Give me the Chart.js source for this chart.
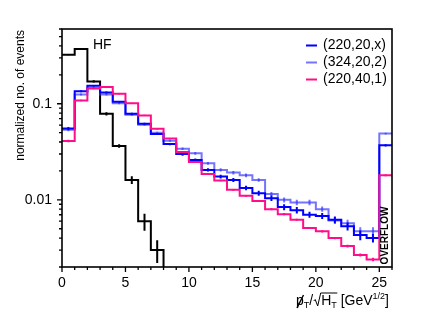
<!DOCTYPE html>
<html>
<head>
<meta charset="utf-8">
<script src="https://cdn.jsdelivr.net/npm/chart.js@4.4.0/dist/chart.umd.min.js"></script>
<style>
  html, body { margin: 0; padding: 0; background: #fff; }
  canvas { display: block; }
</style>
</head>
<body>
<canvas id="metChart" width="432" height="316"></canvas>
<script>
// bin edges of the histogram (last bin 25-26 is the overflow bin)
const binEdges = [0, 1, 2, 3, 4, 5, 6, 7, 8, 9, 10, 11, 12, 13, 14, 15, 16, 17, 18, 19, 20, 21, 22, 23, 24, 25, 26];

const seriesLabels = ['(220,20,x)', '(324,20,2)', '(220,40,1)'];

const blueValues = [0.0554, 0.135, 0.154, 0.131, 0.105, 0.0787, 0.062, 0.0484, 0.0381, 0.030, 0.026, 0.0205, 0.0175,
  0.0161, 0.0133, 0.0117, 0.0104, 0.0084, 0.0078, 0.0070, 0.0068, 0.0062, 0.0053, 0.0043, 0.0040, 0.0369];
const blueErrors = [0.002, 0.003, 0.003, 0.003, 0.002, 0.002, 0.0015, 0.0012, 0.001, 0.0012, 0.001, 0.0008, 0.0008,
  0.0008, 0.0007, 0.0007, 0.0007, 0.0006, 0.0006, 0.0005, 0.0005, 0.0005, 0.0005, 0.0005, 0.0004, 0.001];

const lavenderValues = [0.0537, 0.125, 0.147, 0.125, 0.101, 0.077, 0.0605, 0.050, 0.0413, 0.0341, 0.0305, 0.024, 0.0205,
  0.0192, 0.018, 0.0161, 0.0115, 0.0100, 0.0094, 0.0094, 0.0080, 0.0061, 0.0057, 0.0047, 0.0047, 0.0489];
const lavenderErrors = [0.002, 0.003, 0.003, 0.003, 0.002, 0.002, 0.0015, 0.0012, 0.001, 0.001, 0.001, 0.0008, 0.0008,
  0.0008, 0.0008, 0.0007, 0.0006, 0.0006, 0.0006, 0.0006, 0.0005, 0.0005, 0.0005, 0.0005, 0.0005, 0.001];

const magentaValues = [0.041, 0.108, 0.144, 0.149, 0.127, 0.101, 0.0757, 0.055, 0.0434, 0.0315, 0.0248, 0.0186, 0.0159,
  0.0127, 0.0110, 0.0097, 0.0080, 0.0071, 0.0062, 0.0051, 0.0047, 0.0040, 0.0033, 0.00267, 0.0024, 0.018];
const magentaErrors = [0.0012, 0.002, 0.002, 0.002, 0.002, 0.0015, 0.0012, 0.0009, 0.0007, 0.0005, 0.0004, 0.0003, 0.0003,
  0.0003, 0.00025, 0.0002, 0.0002, 0.0002, 0.00015, 0.00013, 0.00012, 0.0001, 0.0001, 0.0001, 0.0001, 0.0004];

// HF sample, falls below the axis range after bin 7
const hfValues = [0.324, 0.371, 0.171, 0.0787, 0.0363, 0.0161, 0.00597, 0.0030, 0.001];
const hfErrors = [0.005, 0.005, 0.005, 0.003, 0.0015, 0.0015, 0.0012, 0.0008, 0];

const xMajorTicks = [0, 5, 10, 15, 20, 25];
const yMajorTicks = [0.01, 0.1];
const yMinorTicks = [0.002, 0.003, 0.004, 0.005, 0.006, 0.007, 0.008, 0.009,
  0.02, 0.03, 0.04, 0.05, 0.06, 0.07, 0.08, 0.09, 0.2, 0.3, 0.4, 0.5, 0.6];

const BLUE = '#0000ff';
const LAVENDER = 'rgba(50, 50, 255, 0.68)';
const MAGENTA = '#ff0d8a';
const BLACK = '#000000';
const FONT = '"Liberation Sans", Arial, Helvetica, sans-serif';

function histPoints(values) {
  const pts = [];
  values.forEach((v, i) => {
    pts.push({ x: binEdges[i], y: v });
    pts.push({ x: binEdges[i + 1], y: v });
  });
  return pts;
}

function errorPoints(values, errors) {
  const pts = [];
  values.forEach((v, i) => {
    if (!errors[i]) return;
    const c = (binEdges[i] + binEdges[i + 1]) / 2;
    pts.push({ x: c, y: v - errors[i] });
    pts.push({ x: c, y: v + errors[i] });
    pts.push({ x: c, y: null });
  });
  return pts;
}

function histSet(values, color) {
  return { data: histPoints(values), borderColor: color, borderWidth: 2, pointRadius: 0, fill: false, tension: 0 };
}
function errSet(values, errors, color) {
  return { data: errorPoints(values, errors), borderColor: color, borderWidth: 2, pointRadius: 0, fill: false, spanGaps: false };
}

const decorations = {
  id: 'decorations',
  afterDraw(chart) {
    const { ctx, chartArea: a, scales: { x, y } } = chart;
    ctx.save();
    ctx.strokeStyle = BLACK;
    ctx.lineWidth = 1.6;
    ctx.strokeRect(a.left, a.top, a.right - a.left, a.bottom - a.top);

    // tick marks, outside the frame
    ctx.lineWidth = 1.3;
    ctx.beginPath();
    binEdges.forEach(v => {
      const px = x.getPixelForValue(v);
      const len = xMajorTicks.includes(v) ? 5 : 3;
      ctx.moveTo(px, a.bottom);
      ctx.lineTo(px, a.bottom + len);
    });
    yMajorTicks.concat(yMinorTicks).forEach(v => {
      const py = y.getPixelForValue(v);
      const len = yMajorTicks.includes(v) ? 5 : 3;
      ctx.moveTo(a.left, py);
      ctx.lineTo(a.left - len, py);
    });
    ctx.stroke();

    // legend
    const legendColors = [BLUE, LAVENDER, MAGENTA];
    ctx.font = '14px ' + FONT;
    ctx.textBaseline = 'middle';
    ctx.textAlign = 'left';
    seriesLabels.forEach((lab, i) => {
      const ly = 45.5 + i * 17;
      ctx.strokeStyle = legendColors[i];
      ctx.lineWidth = 2;
      ctx.beginPath();
      ctx.moveTo(306, ly);
      ctx.lineTo(317, ly);
      ctx.stroke();
      ctx.fillStyle = BLACK;
      ctx.fillText(lab, 323, ly);
    });

    // HF label
    ctx.fillText('HF', 93, 45.5);

    // OVERFLOW label
    ctx.save();
    ctx.translate(385.5, 235.5);
    ctx.rotate(-Math.PI / 2);
    ctx.font = 'bold 10px ' + FONT;
    ctx.textAlign = 'center';
    ctx.fillText('OVERFLOW', 0, 0);
    ctx.restore();

    // y title
    ctx.save();
    ctx.translate(21, 30);
    ctx.rotate(-Math.PI / 2);
    ctx.font = '12px ' + FONT;
    ctx.textAlign = 'right';
    ctx.fillText('normalized no. of events', 0, 0);
    ctx.restore();

    drawXTitle(ctx, 389, 305);
    ctx.restore();
  }
};

function drawXTitle(ctx, right, base) {
  const big = '14px ' + FONT;
  const small = '9px ' + FONT;
  const parts = [
    { t: 'p', f: big, dy: 0, slash: true },
    { t: 'T', f: small, dy: 3 },
    { t: '/', f: big, dy: 0 },
    { t: '', f: big, dy: 0, sqrt: true, w: 8 },
    { t: 'H', f: big, dy: 0, over: true },
    { t: 'T', f: small, dy: 3, over: true },
    { t: ' [GeV', f: big, dy: 0 },
    { t: '1/2', f: small, dy: -6 },
    { t: ']', f: big, dy: 0 }
  ];
  ctx.textAlign = 'left';
  ctx.textBaseline = 'alphabetic';
  ctx.fillStyle = BLACK;
  parts.forEach(p => {
    ctx.font = p.f;
    p.w = p.sqrt ? p.w : ctx.measureText(p.t).width;
  });
  const total = parts.reduce((s, p) => s + p.w, 0);
  let cx = right - total;
  let sqrtStart = 0, overEnd = 0;
  parts.forEach(p => {
    ctx.font = p.f;
    if (p.sqrt) sqrtStart = cx;
    else ctx.fillText(p.t, cx, base + p.dy);
    if (p.slash) {
      ctx.lineWidth = 1.4;
      ctx.strokeStyle = BLACK;
      ctx.beginPath();
      ctx.moveTo(cx + 1, base + 3);
      ctx.lineTo(cx + 7.5, base - 10);
      ctx.stroke();
    }
    cx += p.w;
    if (p.over) overEnd = cx;
  });
  ctx.lineWidth = 1;
  ctx.strokeStyle = BLACK;
  ctx.beginPath();
  ctx.moveTo(sqrtStart + 0.5, base - 4);
  ctx.lineTo(sqrtStart + 2, base - 5.5);
  ctx.lineTo(sqrtStart + 4.5, base + 1);
  ctx.lineTo(sqrtStart + 7.5, base - 12);
  ctx.lineTo(overEnd + 0.5, base - 12);
  ctx.stroke();
}

const ctx = document.getElementById('metChart').getContext('2d');
new Chart(ctx, {
  type: 'line',
  data: {
    datasets: [
      errSet(magentaValues, magentaErrors, MAGENTA),
      histSet(magentaValues, MAGENTA),
      errSet(blueValues, blueErrors, BLUE),
      histSet(blueValues, BLUE),
      errSet(lavenderValues, lavenderErrors, LAVENDER),
      histSet(lavenderValues, LAVENDER),
      errSet(hfValues, hfErrors, BLACK),
      histSet(hfValues, BLACK)
    ]
  },
  options: {
    responsive: false,
    devicePixelRatio: 1,
    animation: false,
    layout: { padding: { top: 29, right: 40, left: 0, bottom: 0 } },
    plugins: { legend: { display: false }, tooltip: { enabled: false } },
    scales: {
      x: {
        type: 'linear',
        min: 0,
        max: 26,
        afterFit: s => { s.height = 49; },
        afterBuildTicks: s => { s.ticks = xMajorTicks.map(v => ({ value: v })); },
        grid: { display: false, drawTicks: false },
        border: { display: false },
        ticks: {
          autoSkip: false, maxRotation: 0, padding: 8, color: BLACK,
          font: { family: FONT, size: 14 },
          callback: v => String(v)
        }
      },
      y: {
        type: 'logarithmic',
        min: 0.002,
        max: 0.6,
        afterFit: s => { s.width = 62; },
        afterBuildTicks: s => { s.ticks = yMajorTicks.map(v => ({ value: v })); },
        grid: { display: false, drawTicks: false },
        border: { display: false },
        ticks: {
          autoSkip: false, padding: 10, color: BLACK,
          font: { family: FONT, size: 14 },
          callback: v => String(v)
        }
      }
    }
  },
  plugins: [decorations]
});
</script>
</body>
</html>
